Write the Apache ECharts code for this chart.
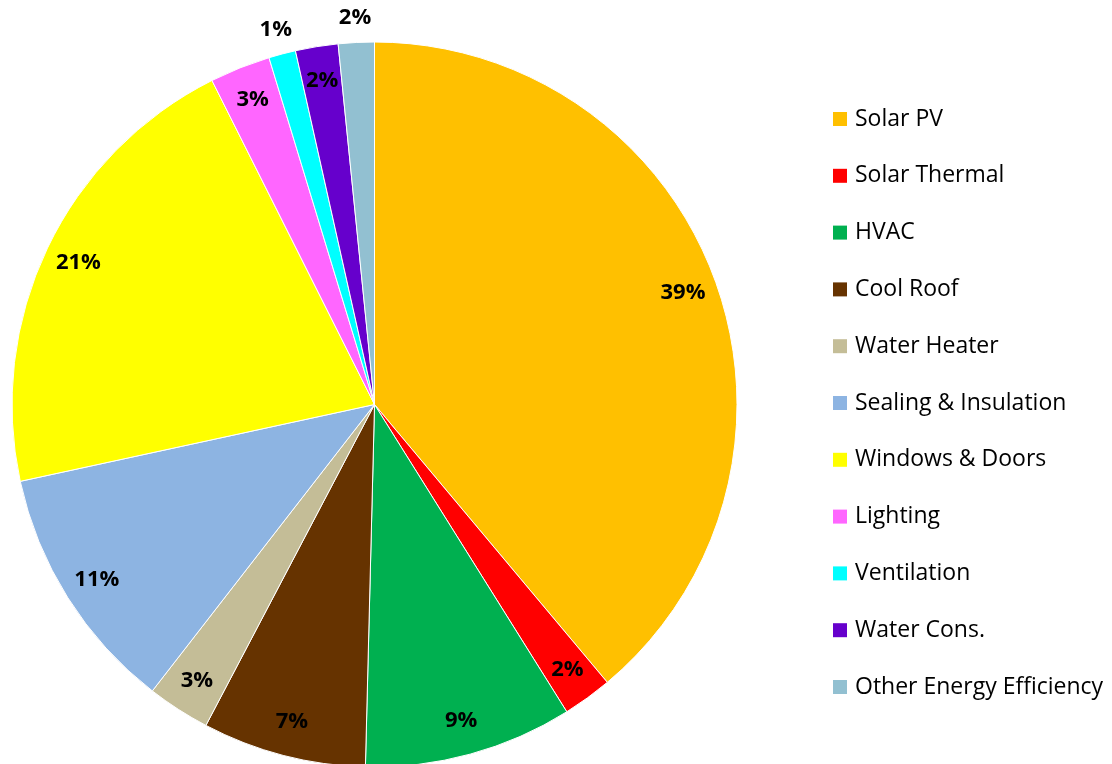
<!DOCTYPE html>
<html>
<head>
<meta charset="utf-8">
<script src="https://cdn.jsdelivr.net/npm/echarts@6/dist/echarts.min.js"></script>
<style>
html,body{margin:0;padding:0;background:#fff;}
#chart{width:1112px;height:764px;}
</style>
</head>
<body>
<div id="chart"></div>
<script>
var categories = ['Solar PV','Solar Thermal','HVAC','Cool Roof','Water Heater','Sealing & Insulation','Windows & Doors','Lighting','Ventilation','Water Cons.','Other Energy Efficiency'];
var values = [38.9, 2.2, 9.3, 7.3, 2.8, 11.1, 21.0, 2.7, 1.2, 1.9, 1.6];
var colors = ['#FFC000','#FF0000','#00B050','#663300','#C4BD97','#8DB4E2','#FFFF00','#FF66FF','#00FFFF','#6600CC','#92C0D1'];
var outsideLabels = ['Ventilation','Other Energy Efficiency'];

var R = 362.5;
var center = [374.5, 404.5];
var fontFam = '"Open Sans", "DejaVu Sans", sans-serif';

function fmt(p){ return Math.round(p.percent) + '%'; }

var mainData = categories.map(function(c,i){
  return {name:c, value:values[i], itemStyle:{color:colors[i]}};
});
var insideData = categories.map(function(c,i){
  return {name:c, value:values[i], label:{show: outsideLabels.indexOf(c) < 0}};
});
var outsideData = categories.map(function(c,i){
  return {name:c, value:values[i], label:{show: outsideLabels.indexOf(c) >= 0}};
});

var labelStyle = {
  position:'inside', formatter: fmt, color:'#000',
  fontFamily: fontFam, fontWeight:'bold', fontSize:22
};

var chart = echarts.init(document.getElementById('chart'), null, {renderer:'canvas'});
chart.setOption({
  animation:false,
  backgroundColor:'#fff',
  legend:{
    orient:'vertical', left:833, top:107, padding:0,
    itemWidth:14, itemHeight:14, itemGap:32.8,
    icon:'rect', selectedMode:false,
    data: categories.map(function(c,i){ return {name:c, itemStyle:{color:colors[i]}}; }),
    textStyle:{fontFamily:fontFam, fontSize:23, color:'#000', lineHeight:24, padding:[0,0,0,3]},
    itemStyle:{borderWidth:0}
  },
  series:[
    {
      type:'pie', center:center, radius:[0,R], startAngle:90, clockwise:true,
      silent:true, label:{show:false}, labelLine:{show:false},
      itemStyle:{borderColor:'#fff', borderWidth:1},
      emphasis:{disabled:true},
      data: mainData
    },
    {
      type:'pie', center:center, radius:[288,R], startAngle:90, clockwise:true,
      silent:true, labelLine:{show:false},
      itemStyle:{color:'rgba(0,0,0,0)', borderWidth:0},
      emphasis:{disabled:true},
      label:labelStyle,
      data: insideData
    },
    {
      type:'pie', center:center, radius:[R,R+44], startAngle:90, clockwise:true,
      silent:true, labelLine:{show:false},
      itemStyle:{color:'rgba(0,0,0,0)', borderWidth:0},
      emphasis:{disabled:true},
      label:labelStyle,
      data: outsideData
    }
  ]
});
</script>
</body>
</html>
